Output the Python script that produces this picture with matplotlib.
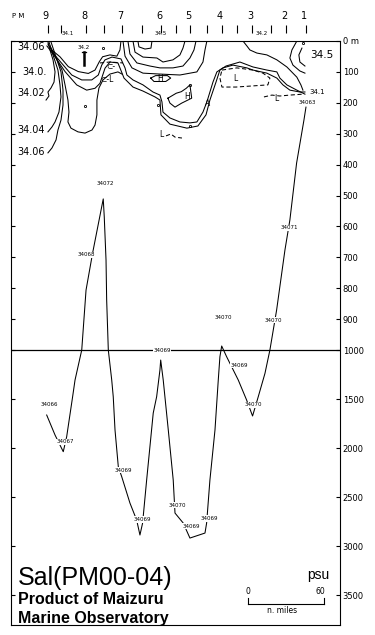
import numpy as np
import matplotlib.pyplot as plt
from matplotlib.transforms import blended_transform_factory

# stations along the section (n.miles from the left edge)
station_x = [29.0, 59.3, 87.5, 118.5, 141.4, 166.7, 190.4, 217.3, 233.1]
station_names = ["9", "8", "7", "6", "5", "4", "3", "2", "1"]
minor_station_x = [39.5, 73.5, 103.2, 130.0, 154.6, 178.5, 205.2]

depth_ticks = [0, 100, 200, 300, 400, 500, 600, 700, 800, 900, 1000,
               1500, 2000, 2500, 3000, 3500]
depth_labels = ["0 m", "100", "200", "300", "400", "500", "600", "700", "800",
                "900", "1000", "1500", "2000", "2500", "3000", "3500"]

# deep salinity contour (34.06x psu), distance / depth
deep_x = [28.2, 34.8, 41.3, 44.0, 48.7, 50.6, 55.9, 59.3, 64.5, 72.9, 73.7, 75.1,
          75.6, 76.9, 79.6, 80.8, 82.2, 84.8, 87.5, 94.0, 99.3, 101.9, 104.0,
          107.2, 112.4, 115.1, 117.7, 118.3, 120.3, 124.3, 128.2, 129.6, 136.1,
          141.4, 153.3, 154.6, 157.2, 161.2, 163.8, 165.1, 166.5, 170.4, 179.6,
          186.2, 190.9, 195.4, 200.7, 204.6, 209.9, 216.5, 220.4, 225.7, 231.5, 233.1]
deep_d = [1663, 1867, 2037, 1884, 1476, 1306, 1000, 806, 686, 511, 569, 709,
          838, 1000, 1306, 1476, 1816, 2190, 2292, 2561, 2734, 2887, 2765,
          2326, 1643, 1476, 1204, 1102, 1306, 1816, 2326, 2663, 2765,
          2918, 2867, 2765, 2326, 1816, 1306, 1068, 987, 1068, 1306,
          1510, 1673, 1476, 1238, 1000, 871, 676, 579, 395, 256, 214]

deep_lab_text = ["34072", "34068", "34071", "34070", "34070", "34069", "34069",
                 "34070", "34066", "34067", "34069", "34069", "34070", "34069",
                 "34069", "34063"]
deep_lab_x = [74.6, 59.8, 219.6, 207.0, 167.5, 119.3, 180.1, 191.6, 30.3, 43.2,
              88.7, 104.0, 131.7, 156.4, 142.8, 234.1]
deep_lab_d = [460, 692, 605, 903, 895, 1000, 1153, 1558, 1551, 1935, 2224, 2729,
              2581, 2719, 2798, 198]

# upper layer contours
bowl0_x = [32.2, 38.7, 45.3, 53.2, 61.1, 66.4, 69.8, 72.4, 78.2, 83.7, 86.1, 86.9]
bowl0_d = [29, 51, 83, 99, 105, 94, 67, 51, 45, 49, 29, 0]

mid_x = [29.2, 33.4, 41.3, 48.0, 55.9, 63.8, 69.0, 71.7, 74.3, 79.8, 86.9, 90.1,
         91.6, 96.4, 104.3, 112.2, 117.7, 119.3, 120.1, 125.6, 133.5, 141.4,
         146.9, 151.7, 154.8, 157.2, 159.6, 162.7, 167.5, 175.4, 186.4, 191.2,
         202.2, 210.1, 214.9, 220.4, 228.3, 232.3]
mid_d = [10, 40, 78, 110, 126, 126, 110, 78, 61, 52, 58, 87,
         110, 126, 142, 165, 175, 197, 230, 249, 262, 265,
         262, 230, 197, 165, 133, 100, 87, 78, 87, 94,
         104, 120, 142, 159, 165, 165]

outer_x = [28.4, 34.8, 42.7, 51.9, 59.8, 66.4, 70.3, 74.3, 78.2, 84.5, 86.1, 89.3,
           96.4, 104.3, 113.8, 117.7, 118.5, 125.6, 139.0, 147.7, 154.1, 157.2,
           162.0, 165.1, 169.9, 180.9, 191.2, 202.2, 210.1, 212.5, 218.0, 225.9, 232.3]
outer_d = [16, 51, 99, 142, 159, 153, 137, 88, 68, 71, 87, 120,
           149, 162, 181, 191, 239, 269, 282, 275, 239, 191,
           133, 94, 81, 68, 84, 94, 100, 120, 142, 159, 172]

loop_x = [30.8, 35.6, 40.3, 42.7, 45.0, 45.8, 45.0, 47.4, 52.9, 58.5, 64.0, 66.4,
          67.9, 67.9, 69.5, 72.7, 78.2, 84.5, 87.7]
loop_d = [16, 55, 94, 142, 191, 230, 262, 282, 294, 298, 288, 272,
          239, 191, 152, 126, 107, 100, 107]

west1_x = [29.2, 30.8, 33.2, 34.8, 34.0, 31.6, 29.2, 30.0, 27.7]
west1_d = [3, 29, 61, 100, 133, 152, 165, 178, 191]
west2_x = [30.0, 33.2, 37.1, 38.7, 39.5, 37.9, 34.8, 32.4, 29.2]
west2_d = [3, 45, 94, 142, 181, 230, 262, 278, 294]
west3_x = [31.6, 35.6, 39.5, 41.1, 41.1, 39.5, 37.1, 35.6, 32.4, 29.2]
west3_d = [3, 52, 100, 159, 207, 256, 288, 320, 346, 362]

dome1_x = [100.3, 101.1, 105.9, 110.6, 111.4]
dome1_d = [0, 19, 26, 23, 0]
dome2_x = [96.4, 98.0, 104.3, 115.3, 120.1, 128.0, 133.5, 135.9, 137.5]
dome2_d = [0, 36, 52, 55, 68, 61, 45, 23, 0]
dome3_x = [92.4, 94.0, 99.5, 109.8, 117.7, 128.0, 135.9, 141.4, 144.6, 146.2]
dome3_d = [0, 42, 71, 81, 87, 87, 81, 55, 29, 0]
dome4_x = [88.5, 90.1, 95.6, 104.3, 117.7, 133.5, 146.9, 151.7, 153.3, 154.8]
dome4_d = [0, 49, 87, 104, 107, 110, 100, 68, 29, 0]

east1_x = [183.3, 186.4, 188.8, 194.3, 202.2, 210.1, 218.0, 225.9, 229.1, 230.7]
east1_d = [0, 16, 29, 39, 45, 61, 84, 117, 142, 159]
east2_x = [225.9, 222.0, 220.4, 222.8, 228.3, 232.3]
east2_d = [0, 29, 55, 78, 97, 104]
east3_x = [229.9, 227.5, 228.3, 232.3]
east3_d = [23, 45, 68, 81]

high1_x = [110.4, 114.3, 123.6, 126.2, 122.3, 113.0, 110.4]
high1_d = [120, 112, 112, 120, 131, 131, 120]
high2_x = [124.0, 130.6, 134.6, 138.5, 141.4, 142.8, 134.9, 129.6, 125.6, 124.0]
high2_d = [185, 169, 164, 153, 142, 185, 201, 214, 201, 185]

lowA_x = [166.7, 178.5, 191.2, 199.1, 204.6, 203.0, 177.8, 166.7, 165.1, 166.7]
lowA_d = [94, 87, 94, 104, 120, 142, 149, 149, 120, 94]
lowB_x = [199.9, 206.2, 212.5, 220.4, 230.7]
lowB_d = [181, 175, 178, 175, 172]
lowC_x = [70.3, 78.2, 88.5]
lowC_d = [71, 68, 71]
lowD_x = [122.5, 126.4, 129.6, 135.1]
lowD_d = [307, 301, 311, 314]

mark_x = [58.5, 116.1, 141.4, 72.4, 230.7, 141.4]
mark_d = [210, 207, 275, 22, 6, 142]

scale_nmi = [0, 60]
scale_start = 187.5


def fwd(d):
    d = np.asarray(d, dtype=float)
    return np.where(d <= 1000, d, 1000 + (d - 1000) * 0.3172)


def inv(y):
    y = np.asarray(y, dtype=float)
    return np.where(y <= 1000, y, 1000 + (y - 1000) / 0.3172)


fig = plt.figure(figsize=(3.75, 6.35), dpi=100)
ax = fig.add_axes([11 / 375, 10 / 635, 329 / 375, 584 / 635])
ax.set_yscale("function", functions=(fwd, inv))
ax.set_xlim(0, 260)
ax.set_ylim(3805, 0)
for s in ax.spines.values():
    s.set_linewidth(0.8)

ax.set_xticks([])
ax.set_yticks(depth_ticks)
ax.set_yticklabels(depth_labels)
ax.yaxis.set_minor_locator(plt.NullLocator())
ax.tick_params(axis="y", direction="in", length=3, width=0.8, left=True, right=True,
               labelleft=False, labelright=True, labelsize=6, pad=2)

kw = dict(color="k", lw=0.75)
ax.axhline(1000, color="k", lw=0.9)
ax.plot(deep_x, deep_d, **kw)
for xs, ds in [(bowl0_x, bowl0_d), (mid_x, mid_d), (outer_x, outer_d), (loop_x, loop_d),
               (west1_x, west1_d), (west2_x, west2_d), (west3_x, west3_d),
               (dome1_x, dome1_d), (dome2_x, dome2_d), (dome3_x, dome3_d), (dome4_x, dome4_d),
               (east1_x, east1_d), (east2_x, east2_d), (east3_x, east3_d),
               (high1_x, high1_d), (high2_x, high2_d)]:
    ax.plot(xs, ds, **kw)
for xs, ds in [(lowA_x, lowA_d), (lowB_x, lowB_d), (lowC_x, lowC_d), (lowD_x, lowD_d)]:
    ax.plot(xs, ds, ls=(0, (4, 2.5)), **kw)
ax.plot(mark_x, mark_d, ls="none", marker="o", ms=1.6, mfc="none", mec="k", mew=0.6)

# station 8 bottom marker
ax.plot([57.7, 57.7], [36, 78], color="k", lw=1.8)
ax.plot([56.1, 59.3], [36, 36], color="k", lw=0.9)

for t, x, d in zip(deep_lab_text, deep_lab_x, deep_lab_d):
    ax.text(x, d, t, fontsize=4, ha="center", va="center",
            bbox=dict(fc="white", ec="none", pad=0.4))

# contour labels in the upper layer
for t, x, d in [("34.06", 4.7, 19), ("34.0.", 8.7, 100), ("34.02", 4.7, 168),
                ("34.04", 4.7, 288), ("34.06", 4.7, 359)]:
    ax.text(x, d, t, fontsize=7, ha="left", va="center")
ax.text(236.2, 45, "34.5", fontsize=7.5, ha="left", va="center")
ax.text(236.2, 166, "34.1", fontsize=5, ha="left", va="center")
ax.text(57.7, 22, "34.2", fontsize=4, ha="center", va="center")
for t, x, d in [("H", 117.7, 120), ("H", 139.0, 178), ("L", 177.0, 120),
                ("L", 210.1, 185), ("L", 119.0, 304), ("A", 155.6, 201)]:
    ax.text(x, d, t, fontsize=5.5, ha="center", va="center")
ax.text(75.8, 126, "⊂-L", fontsize=5.5, ha="center", va="center")
ax.text(79.0, 85, "⊂-", fontsize=5.5, ha="center", va="center")

# stations above the frame
tr = blended_transform_factory(ax.transData, ax.transAxes)
ax.vlines(station_x + minor_station_x, 1.0137, 1.0274, transform=tr, color="k",
          lw=0.8, clip_on=False)
for x, n in zip(station_x, station_names):
    ax.text(x - 1.5, 1.0428, n, transform=tr, fontsize=7, ha="center", va="center")
for t, x in [("34.1", 45.0), ("34.5", 118.0), ("34.2", 198.0)]:
    ax.text(x, 1.012, t, transform=tr, fontsize=4, ha="center", va="center")
fig.text(12 / 375, 1 - 16 / 635, "P M", fontsize=5, va="center")

# scale bar
sx = [scale_start + v for v in scale_nmi]
ax.plot(sx, [3590, 3590], color="k", lw=0.8)
ax.plot([sx[0], sx[0]], [3530, 3590], color="k", lw=0.8)
ax.plot([sx[1], sx[1]], [3530, 3590], color="k", lw=0.8)
ax.text(sx[0], 3465, "0", fontsize=5.5, ha="center", va="center")
ax.text(sx[1] + 1, 3465, "60", fontsize=5.5, ha="right", va="center")
ax.text(213.9, 3659, "n. miles", fontsize=5.5, ha="center", va="center")
ax.text(242.5, 3295, "psu", fontsize=10, ha="center", va="center",
        family="Liberation Sans")

fig.text(18 / 375, 1 - 578 / 635, "Sal(PM00-04)", fontsize=18, va="center",
         family="Liberation Sans")
fig.text(18 / 375, 1 - 600 / 635, "Product of Maizuru", fontsize=11.5,
         fontweight="bold", va="center", family="Liberation Sans")
fig.text(18 / 375, 1 - 618 / 635, "Marine Observatory", fontsize=11.5,
         fontweight="bold", va="center", family="Liberation Sans")

fig.savefig("out.png", dpi=100)
